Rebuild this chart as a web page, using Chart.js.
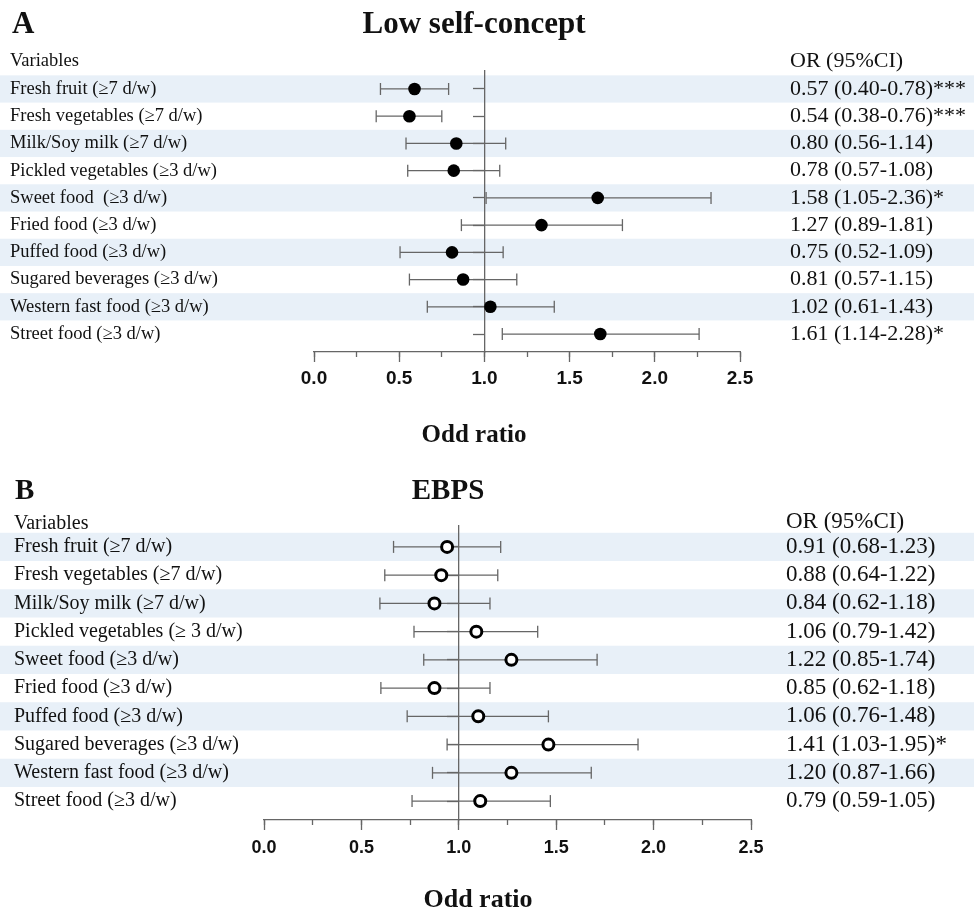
<!DOCTYPE html>
<html>
<head>
<meta charset="utf-8">
<script src="https://cdn.jsdelivr.net/npm/chart.js@4.4.1/dist/chart.umd.min.js"></script>
<style>
  body { margin: 0; background: #fff; }
  #page { position: relative; width: 974px; height: 913px; overflow: hidden; font-family: "Liberation Serif", "Times New Roman", serif; color: #111; }
  canvas { position: absolute; left: 0; }
  .t { position: absolute; white-space: pre; line-height: 1; }
  .b { font-weight: bold; }
  .c { transform: translateX(-50%); }
</style>
</head>
<body>
<div id="page">
  <canvas id="chartA" width="974" height="456" style="top:0"></canvas>
  <canvas id="chartB" width="974" height="457" style="top:456px"></canvas>

  <div class="t b" style="left:12px;top:7px;font-size:31px">A</div>
  <div class="t b c" style="left:474px;top:7px;font-size:31px">Low self-concept</div>
  <div class="t" style="left:10px;top:51px;font-size:18.5px">Variables</div>
  <div class="t" style="left:790px;top:49px;font-size:22px">OR (95%CI)</div>
  <div class="t b c" style="left:474px;top:421px;font-size:25px">Odd ratio</div>

  <div class="t b" style="left:15px;top:475px;font-size:29px">B</div>
  <div class="t b c" style="left:448px;top:475px;font-size:29px">EBPS</div>
  <div class="t" style="left:14px;top:512px;font-size:20px">Variables</div>
  <div class="t" style="left:786px;top:509px;font-size:23px">OR (95%CI)</div>
  <div class="t b c" style="left:478px;top:886px;font-size:26px">Odd ratio</div>
</div>
<script>
// panel A - low self-concept
const variablesA = ['Fresh fruit (≥7 d/w)', 'Fresh vegetables (≥7 d/w)', 'Milk/Soy milk (≥7 d/w)',
  'Pickled vegetables (≥3 d/w)', 'Sweet food  (≥3 d/w)', 'Fried food (≥3 d/w)', 'Puffed food (≥3 d/w)',
  'Sugared beverages (≥3 d/w)', 'Western fast food (≥3 d/w)', 'Street food (≥3 d/w)'];
const orA   = [0.59, 0.56, 0.835, 0.82, 1.665, 1.335, 0.81, 0.875, 1.035, 1.68];
const lowA  = [0.39, 0.365, 0.54, 0.55, 1.01, 0.865, 0.505, 0.56, 0.665, 1.105];
const highA = [0.79, 0.75, 1.125, 1.09, 2.33, 1.81, 1.11, 1.19, 1.41, 2.26];
const orTextA = ['0.57 (0.40-0.78)***', '0.54 (0.38-0.76)***', '0.80 (0.56-1.14)', '0.78 (0.57-1.08)',
  '1.58 (1.05-2.36)*', '1.27 (0.89-1.81)', '0.75 (0.52-1.09)', '0.81 (0.57-1.15)', '1.02 (0.61-1.43)',
  '1.61 (1.14-2.28)*'];

// panel B - EBPS
const variablesB = ['Fresh fruit (≥7 d/w)', 'Fresh vegetables (≥7 d/w)', 'Milk/Soy milk (≥7 d/w)',
  'Pickled vegetables (≥ 3 d/w)', 'Sweet food (≥3 d/w)', 'Fried food (≥3 d/w)', 'Puffed food (≥3 d/w)',
  'Sugared beverages (≥3 d/w)', 'Western fast food (≥3 d/w)', 'Street food (≥3 d/w)'];
const orB   = [0.94, 0.91, 0.875, 1.09, 1.27, 0.875, 1.10, 1.46, 1.27, 1.11];
const lowB  = [0.665, 0.62, 0.595, 0.77, 0.82, 0.60, 0.735, 0.94, 0.865, 0.76];
const highB = [1.215, 1.20, 1.16, 1.405, 1.71, 1.16, 1.46, 1.92, 1.68, 1.47];
const orTextB = ['0.91 (0.68-1.23)', '0.88 (0.64-1.22)', '0.84 (0.62-1.18)', '1.06 (0.79-1.42)',
  '1.22 (0.85-1.74)', '0.85 (0.62-1.18)', '1.06 (0.76-1.48)', '1.41 (1.03-1.95)*', '1.20 (0.87-1.66)',
  '0.79 (0.59-1.05)'];

// x axis
const xTicks = [0, 0.5, 1, 1.5, 2, 2.5];
const xTickLabels = ['0.0', '0.5', '1.0', '1.5', '2.0', '2.5'];
const xMinorTicks = [0, 0.25, 0.5, 0.75, 1, 1.25, 1.5, 1.75, 2, 2.25, 2.5];
const refValue = 1;

const GRAY = '#666';
const BAND = '#e8f0f8';

const bandPlugin = {
  id: 'bands',
  beforeDraw(chart) {
    const { ctx } = chart;
    const y = chart.scales.y;
    ctx.save();
    ctx.fillStyle = BAND;
    y.ticks.forEach(t => {
      if (t.value % 2) return;
      const top = y.getPixelForValue(t.value - 0.5);
      const bot = y.getPixelForValue(t.value + 0.5);
      ctx.fillRect(0, top, chart.width, bot - top);
    });
    ctx.restore();
  }
};

function forestChart(id, p) {
  const rows = p.labels.map((_, i) => i);
  const setRows = s => { s.ticks = rows.map(v => ({ value: v })); };
  const yBase = { type: 'linear', axis: 'y', min: p.yMin, max: p.yMax, reverse: true, afterBuildTicks: setRows };

  const dots = {
    data: rows.map(i => ({ x: p.or[i], y: i })),
    pointRadius: p.dotRadius,
    pointBackgroundColor: p.dotFill,
    pointBorderColor: '#000',
    pointBorderWidth: p.dotBorder,
    xAxisID: 'x', yAxisID: 'y'
  };
  const bars = rows.map(i => ({
    data: [{ x: p.low[i], y: i }, { x: p.high[i], y: i }],
    showLine: true,
    borderColor: GRAY,
    borderWidth: 1.3,
    pointStyle: 'line',
    rotation: 90,
    pointRadius: 6,
    pointBorderColor: GRAY,
    pointBorderWidth: 1.3,
    xAxisID: 'x', yAxisID: 'y'
  }));

  return new Chart(document.getElementById(id), {
    type: 'scatter',
    data: { datasets: [dots].concat(bars) },
    options: {
      responsive: false,
      animation: false,
      events: [],
      layout: { padding: { left: p.left, right: 0, top: p.top, bottom: 0 } },
      plugins: { legend: { display: false }, tooltip: { enabled: false } },
      scales: {
        x: {
          type: 'linear', axis: 'x', position: 'bottom', min: 0, max: 2.5,
          afterBuildTicks: s => { s.ticks = xTicks.map(v => ({ value: v })); },
          afterFit: s => { s.height = p.axisHeight; },
          ticks: {
            callback: (v, i) => xTickLabels[i],
            font: { family: 'Liberation Sans', weight: 'bold', size: p.tickSize },
            color: '#111', padding: p.tickPad, maxRotation: 0, autoSkip: false
          },
          grid: { drawOnChartArea: false, tickLength: 10, tickColor: GRAY, tickWidth: 1.3 },
          border: { color: GRAY, width: 1.3 }
        },
        xMinor: {
          type: 'linear', axis: 'x', position: { y: p.yMax }, min: 0, max: 2.5,
          afterBuildTicks: s => { s.ticks = xMinorTicks.map(v => ({ value: v })); },
          ticks: { display: false },
          grid: { drawOnChartArea: false, tickLength: 5, tickColor: GRAY, tickWidth: 1.3 },
          border: { display: false }
        },
        y: Object.assign({}, yBase, {
          position: { x: refValue },
          ticks: { display: false },
          grid: { drawOnChartArea: false, tickLength: 11, tickColor: GRAY, tickWidth: 1.3 },
          border: { color: GRAY, width: 1.3 }
        }),
        yNames: Object.assign({}, yBase, {
          position: 'left',
          afterFit: s => { s.width = p.leftWidth; },
          ticks: {
            callback: v => p.labels[v], crossAlign: 'far', autoSkip: false, padding: 0,
            font: { family: 'Liberation Serif', size: p.labelSize }, color: '#111'
          },
          grid: { display: false, drawTicks: false },
          border: { display: false }
        }),
        yOR: Object.assign({}, yBase, {
          position: 'right',
          afterFit: s => { s.width = p.rightWidth; },
          ticks: {
            callback: v => p.orText[v], autoSkip: false, padding: p.orPad,
            font: { family: 'Liberation Serif', size: p.orSize }, color: '#111'
          },
          grid: { display: false, drawTicks: false },
          border: { display: false }
        })
      }
    },
    plugins: [bandPlugin]
  });
}

forestChart('chartA', {
  labels: variablesA, or: orA, low: lowA, high: highA, orText: orTextA,
  yMin: -0.66, yMax: 9.66, top: 71, axisHeight: 104,
  left: 10, leftWidth: 304, rightWidth: 234, orPad: 50,
  labelSize: 18.5, orSize: 22, tickSize: 19, tickPad: 5,
  dotRadius: 6.3, dotFill: '#000', dotBorder: 0
});

forestChart('chartB', {
  labels: variablesB, or: orB, low: lowB, high: highB, orText: orTextB,
  yMin: -0.74, yMax: 9.67, top: 70, axisHeight: 93,
  left: 14, leftWidth: 250, rightWidth: 223, orPad: 35,
  labelSize: 20, orSize: 23, tickSize: 18, tickPad: 7,
  dotRadius: 5.5, dotFill: '#fff', dotBorder: 3
});
</script>
</body>
</html>
